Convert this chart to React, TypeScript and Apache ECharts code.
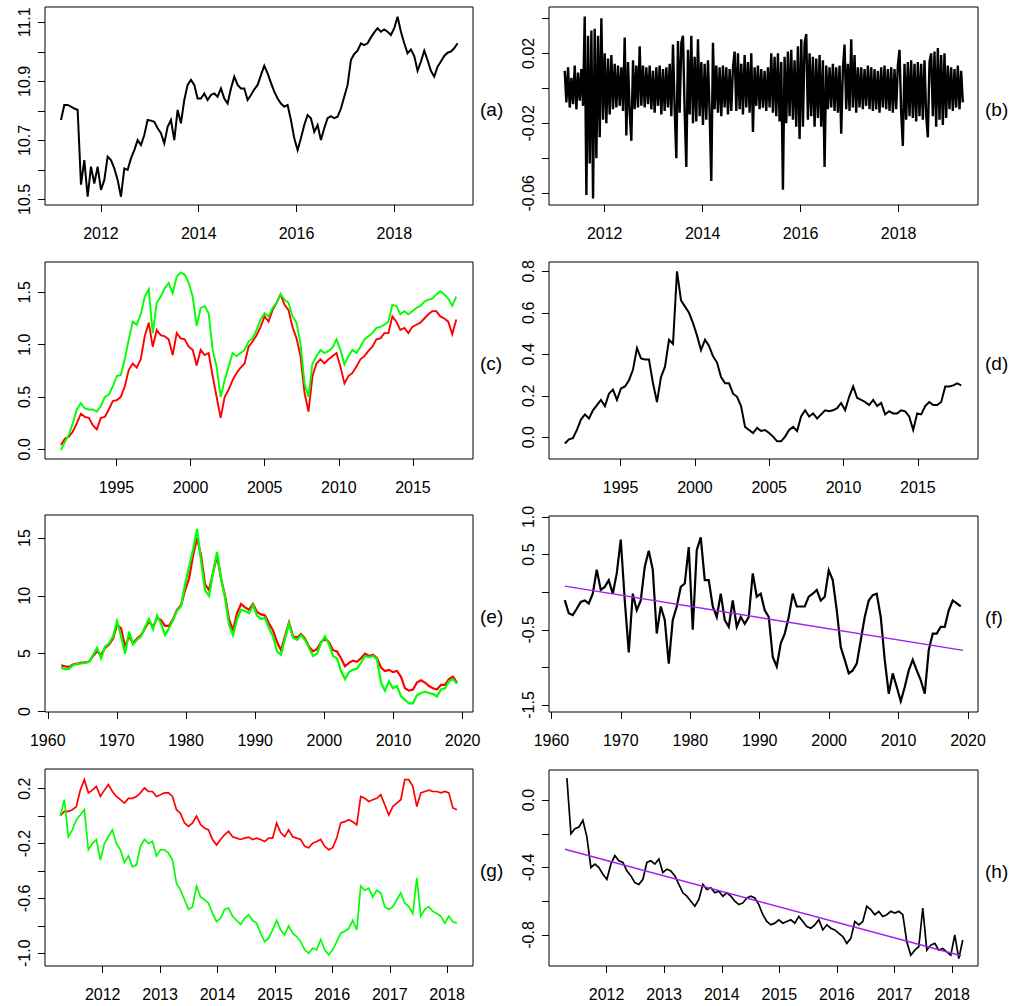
import React, { useEffect, useRef } from "react";
import * as echarts from "echarts";

// ---------- (a) level series ----------
const aStart = 2011.182;
const aStep = 0.06817;
const aValues = [
  10.769, 10.82, 10.82, 10.814, 10.808, 10.803, 10.55, 10.633, 10.509, 10.611,
  10.554, 10.611, 10.532, 10.566, 10.645, 10.633, 10.605, 10.566, 10.509, 10.605,
  10.6, 10.639, 10.667, 10.701, 10.684, 10.718, 10.769, 10.767, 10.763, 10.741,
  10.724, 10.69, 10.746, 10.769, 10.701, 10.803, 10.758, 10.837, 10.888, 10.905,
  10.888, 10.842, 10.842, 10.859, 10.837, 10.854, 10.859, 10.848, 10.876, 10.842,
  10.825, 10.876, 10.916, 10.888, 10.876, 10.876, 10.837, 10.854, 10.873, 10.888,
  10.921, 10.953, 10.927, 10.895, 10.865, 10.842, 10.825, 10.814, 10.82, 10.769,
  10.707, 10.667, 10.707, 10.752, 10.786, 10.775, 10.729, 10.752, 10.701, 10.741,
  10.775, 10.782, 10.775, 10.78, 10.808, 10.848, 10.888, 10.972, 10.993, 11.004,
  11.029, 11.023, 11.029, 11.049, 11.066, 11.08, 11.068, 11.076, 11.068, 11.057,
  11.08, 11.119, 11.068, 11.029, 10.995, 11.008, 10.986, 10.936, 10.967, 11.004,
  10.972, 10.936, 10.916, 10.95, 10.967, 10.986, 10.997, 11.001, 11.012, 11.029,
];

// ---------- (b) returns ----------
const bStart = 2011.184;
const bStep = 0.034;
const bValues = [
  0.01, -0.008, 0.012, -0.011, 0.006, -0.009, 0.013, -0.012, 0.009, -0.007, 0.011, -0.01,
  0.041, -0.061, 0.03, -0.043, 0.033, -0.063, 0.034, -0.04, 0.03, -0.028, 0.04,
  -0.018, 0.02, -0.02, 0.017, -0.015, 0.019, -0.012, 0.014,
  -0.011, 0.013, -0.01, 0.012, -0.013, 0.029,
  -0.027, 0.015, -0.014, -0.03, 0.016, -0.012, 0.013, -0.011, 0.024, -0.01,
  0.013, -0.011, 0.012, -0.009, 0.013, -0.012, 0.01, -0.014, 0.012, -0.01, 0.013, -0.015, 0.011, -0.013, 0.012, -0.011, 0.014, -0.016,
  0.025, -0.012, -0.04, 0.027, -0.014, 0.026, 0.03, -0.013, -0.045, 0.022, -0.015, 0.03,
  -0.02, 0.018, -0.019, 0.028, -0.016, 0.015, -0.021, 0.014, -0.018, 0.016, -0.014,
  -0.053, 0.026,
  -0.012, 0.013, -0.014, 0.012, -0.016, 0.013, -0.011, 0.012, -0.015, 0.011, -0.013, 0.012, 0.021,
  -0.013, 0.02, -0.012, 0.014, -0.015, 0.019, -0.011, 0.015, -0.014, 0.02, -0.025,
  0.012, -0.01, 0.013, -0.012, 0.011, -0.011, 0.01, -0.013, 0.012, -0.011, 0.02,
  -0.014, 0.018, -0.016, 0.02, -0.019, 0.015,
  -0.058,
  0.018, -0.02, 0.021, -0.016, 0.022, -0.018, 0.016, -0.022,
  0.024, -0.029, 0.028, -0.022, 0.026, 0.031, -0.018,
  0.02, -0.016, 0.018, -0.022, 0.017, -0.017, 0.019,
  -0.022, 0.016, -0.045,
  0.013, -0.012, 0.012, -0.011, 0.014, -0.013, 0.012, -0.014, 0.013, -0.026, 0.011,
  0.025, -0.012, 0.014, -0.013, 0.028, -0.011, 0.019, -0.014, 0.012,
  -0.011, 0.012, -0.012, 0.011, -0.01, 0.013, -0.012, 0.012, -0.013, 0.011, -0.012, 0.01,
  -0.014, 0.012, -0.011, 0.013, -0.012, 0.011, -0.013, 0.012, -0.014, 0.011, -0.012, 0.013,
  0.022, -0.014, -0.033,
  0.014, -0.018, 0.015, -0.016, 0.016, -0.017, 0.014, -0.019, 0.015, -0.016, 0.014, -0.018, 0.016, -0.015,
  -0.028, 0.015, 0.02, -0.016,
  0.021, -0.022, 0.023, -0.018, 0.019, -0.021, 0.02, -0.017,
  0.013, -0.012, 0.012, -0.013, 0.011, -0.011, 0.013, -0.012, 0.01, -0.008,
];

// ---------- (c) and (d) ----------
const cdStart = 1991.251;
const cdStep = 0.2694;
const cRed = [
  0.04, 0.1, 0.12, 0.17, 0.25, 0.34, 0.31, 0.3, 0.23, 0.19,
  0.3, 0.31, 0.38, 0.46, 0.47, 0.5, 0.6, 0.76, 0.82, 0.78,
  0.86, 1.08, 1.21, 0.98, 1.14, 1.09, 1.08, 1.05, 0.9, 1.11,
  1.06, 1.05, 0.98, 0.95, 0.8, 0.95, 0.9, 0.92, 0.7, 0.5,
  0.3, 0.5, 0.57, 0.66, 0.73, 0.78, 0.82, 0.98, 1.03, 1.09,
  1.17, 1.27, 1.22, 1.33, 1.4, 1.48, 1.38, 1.33, 1.17, 1.06,
  0.89, 0.54, 0.36, 0.7, 0.82, 0.86, 0.82, 0.86, 0.89, 0.92,
  0.79, 0.63, 0.7, 0.73, 0.79, 0.86, 0.89, 0.94, 0.98, 1.05,
  1.06, 1.11, 1.11, 1.27, 1.22, 1.14, 1.16, 1.11, 1.17, 1.19,
  1.21, 1.25, 1.29, 1.32, 1.32, 1.27, 1.25, 1.22, 1.1, 1.24,
];
const cGreen = [
  -0.01, 0.07, 0.14, 0.25, 0.38, 0.44, 0.39, 0.38, 0.38, 0.36,
  0.41, 0.5, 0.52, 0.6, 0.7, 0.71, 0.86, 1.05, 1.22, 1.19,
  1.29, 1.46, 1.53, 1.11, 1.4, 1.46, 1.54, 1.59, 1.49, 1.65,
  1.69, 1.67, 1.59, 1.46, 1.18, 1.35, 1.37, 1.3, 0.95, 0.79,
  0.5, 0.66, 0.79, 0.92, 0.89, 0.92, 0.95, 1.03, 1.06, 1.14,
  1.24, 1.3, 1.27, 1.35, 1.4, 1.48, 1.43, 1.4, 1.27, 1.21,
  1.01, 0.63, 0.5, 0.82, 0.89, 0.95, 0.92, 0.94, 0.97, 1.05,
  0.95, 0.81, 0.89, 0.95, 0.92, 0.98, 1.05, 1.08, 1.11, 1.16,
  1.17, 1.19, 1.22, 1.38, 1.37, 1.29, 1.32, 1.29, 1.32, 1.35,
  1.37, 1.41, 1.43, 1.44, 1.48, 1.51, 1.48, 1.44, 1.37, 1.46,
];
const dValues = [
  -0.03, -0.01, -0.005, 0.035, 0.085, 0.11, 0.09, 0.13, 0.155, 0.18,
  0.15, 0.21, 0.23, 0.18, 0.235, 0.245, 0.275, 0.325, 0.43, 0.38,
  0.375, 0.375, 0.26, 0.17, 0.29, 0.34, 0.47, 0.45, 0.8, 0.66,
  0.63, 0.6, 0.55, 0.49, 0.42, 0.47, 0.44, 0.39, 0.36, 0.29,
  0.26, 0.26, 0.21, 0.195, 0.15, 0.05, 0.035, 0.02, 0.045, 0.03,
  0.035, 0.02, 0.003, -0.02, -0.02, 0.003, 0.035, 0.05, 0.03, 0.1,
  0.13, 0.1, 0.115, 0.09, 0.11, 0.13, 0.125, 0.13, 0.14, 0.165,
  0.13, 0.195, 0.245, 0.19, 0.18, 0.17, 0.155, 0.18, 0.15, 0.165,
  0.11, 0.125, 0.115, 0.115, 0.13, 0.125, 0.1, 0.035, 0.115, 0.11,
  0.15, 0.17, 0.155, 0.155, 0.17, 0.245, 0.245, 0.25, 0.26, 0.25,
];

// ---------- (e) ----------
const eStart = 1961.928;
const eStep = 0.5783;
const eRed = [
  4.0, 3.9, 3.85, 4.05, 4.15, 4.2, 4.25, 4.3, 4.8, 5.2,
  4.9, 5.5, 5.8, 6.3, 7.5, 7.2, 5.6, 6.5, 5.9, 6.3,
  6.6, 7.2, 7.8, 7.3, 8.1, 7.9, 7.4, 7.4, 8.0, 8.8,
  9.2, 10.5, 11.5, 13.5, 15.0, 13.5, 11.0, 10.5, 12.0, 13.5,
  11.5, 10.0, 8.0, 7.0, 8.5, 9.3, 9.0, 8.8, 9.3, 8.6,
  8.4, 8.3, 7.6, 7.0, 6.0, 5.3, 6.5, 7.7, 6.5, 6.4,
  6.7, 6.3, 5.6, 5.2, 5.4, 6.0, 6.3, 6.0, 5.3, 5.2,
  4.6, 3.9, 4.2, 4.4, 4.3, 4.6, 5.0, 4.8, 4.9, 4.6,
  3.8, 3.5, 3.6, 3.4, 3.5, 3.0, 2.0, 1.8, 1.9, 2.5,
  2.7, 2.5, 2.2, 2.0, 1.9, 2.3, 2.3, 2.8, 3.0, 2.5,
];
const eGreen = [
  3.8, 3.65, 3.7, 4.0, 4.1, 4.15, 4.2, 4.3, 4.9, 5.5,
  4.6, 5.6, 5.9, 6.5, 7.8, 6.5, 5.0, 6.9, 5.8, 6.2,
  6.5, 7.3, 8.0, 7.1, 8.3, 7.6, 6.6, 7.2, 7.9, 8.7,
  9.1, 11.0, 12.5, 14.0, 15.8, 13.0, 10.5, 10.0, 12.0, 13.8,
  11.5, 9.8, 7.5, 6.6, 8.0, 8.8, 8.7, 8.5, 9.2, 8.3,
  8.0, 8.1, 7.2, 6.5, 5.2, 4.9, 6.3, 7.6, 6.4, 6.2,
  6.6, 6.2, 5.5, 4.8, 5.0, 5.9, 6.5, 5.8, 4.8, 4.6,
  3.5, 2.8, 3.4, 3.6, 3.7, 4.2, 4.8, 4.7, 4.8, 4.5,
  2.5, 1.8, 2.6, 2.0, 2.2, 1.3, 1.0, 0.7, 0.7, 1.4,
  1.6, 1.7, 1.6, 1.5, 1.3, 1.9, 2.0, 2.6, 2.8, 2.4,
];

// ---------- (f) ----------
const fStart = 1961.92;
const fStep = 0.5761;
const fValues = [
  -0.106, -0.28, -0.305, -0.22, -0.13, -0.11, -0.15, -0.02, 0.3, 0.03,
  0.07, 0.16, -0.02, 0.25, 0.7, -0.11, -0.8, -0.02, -0.24, -0.11,
  0.34, 0.55, 0.3, -0.55, -0.19, -0.37, -0.95, -0.37, -0.19, 0.07,
  0.115, 0.6, -0.5, 0.56, 0.73, 0.16, 0.16, -0.19, -0.33, -0.02,
  -0.37, -0.46, -0.11, -0.46, -0.33, -0.42, -0.33, 0.25, -0.06, -0.02,
  -0.24, -0.33, -0.86, -0.99, -0.68, -0.55, -0.33, -0.02, -0.19, -0.19,
  -0.19, -0.06, -0.02, 0.03, -0.11, -0.06, 0.29, 0.16, -0.24, -0.73,
  -0.9, -1.08, -1.04, -0.95, -0.64, -0.33, -0.11, -0.04, -0.02, -0.33,
  -0.9, -1.35, -1.08, -1.26, -1.45, -1.26, -1.04, -0.9, -1.04, -1.17,
  -1.35, -0.77, -0.55, -0.55, -0.46, -0.46, -0.24, -0.11, -0.15, -0.19,
];
const fTrend = [
  [1961.92, 0.08],
  [2019.3, -0.774],
];

// ---------- (g) ----------
const gStart = 2011.262;
const gStep = 0.06977;
const gRed = [
  0.003, 0.035, 0.035, 0.047, 0.07, 0.19, 0.266, 0.17, 0.19, 0.217,
  0.144, 0.19, 0.23, 0.18, 0.144, 0.12, 0.095, 0.13, 0.13, 0.144,
  0.17, 0.205, 0.18, 0.18, 0.144, 0.156, 0.17, 0.17, 0.144, 0.047,
  0.02, -0.05, -0.075, -0.05, 0.0, -0.06, -0.087, -0.1, -0.17, -0.21,
  -0.17, -0.136, -0.11, -0.15, -0.16, -0.17, -0.16, -0.153, -0.17, -0.16,
  -0.17, -0.185, -0.16, -0.16, -0.05, -0.12, -0.15, -0.1, -0.15, -0.16,
  -0.17, -0.22, -0.23, -0.197, -0.185, -0.17, -0.22, -0.245, -0.23, -0.16,
  -0.05, -0.04, -0.026, -0.04, -0.063, 0.144, 0.13, 0.107, 0.12, 0.13,
  0.156, 0.083, 0.008, 0.07, 0.095, 0.12, 0.266, 0.266, 0.217, 0.07,
  0.17, 0.18, 0.19, 0.18, 0.18, 0.17, 0.18, 0.17, 0.06, 0.047,
];
const gGreen = [
  0.003, 0.12, -0.15, -0.1, -0.025, 0.01, 0.047, -0.245, -0.2, -0.17,
  -0.32, -0.2, -0.15, -0.1, -0.2, -0.245, -0.34, -0.29, -0.37, -0.355,
  -0.22, -0.17, -0.2, -0.185, -0.29, -0.245, -0.245, -0.27, -0.32, -0.49,
  -0.54, -0.61, -0.68, -0.66, -0.51, -0.59, -0.61, -0.635, -0.71, -0.77,
  -0.745, -0.68, -0.67, -0.73, -0.76, -0.79, -0.745, -0.72, -0.76, -0.78,
  -0.854, -0.915, -0.89, -0.83, -0.76, -0.83, -0.866, -0.8, -0.854, -0.878,
  -0.915, -0.975, -1.0, -0.963, -0.975, -0.9, -0.975, -1.012, -0.975, -0.915,
  -0.854, -0.84, -0.82, -0.76, -0.83, -0.51, -0.54, -0.525, -0.59, -0.54,
  -0.56, -0.66, -0.68, -0.66, -0.61, -0.56, -0.635, -0.66, -0.71, -0.45,
  -0.73, -0.68, -0.66, -0.695, -0.71, -0.73, -0.78, -0.73, -0.77, -0.78,
];

// ---------- (h) ----------
const hStart = 2011.311;
const hStep = 0.06944;
const hValues = [
  0.13, -0.2, -0.17, -0.16, -0.12, -0.22, -0.4, -0.38, -0.4, -0.44,
  -0.47, -0.38, -0.33, -0.36, -0.37, -0.42, -0.45, -0.49, -0.5, -0.47,
  -0.37, -0.36, -0.38, -0.35, -0.43, -0.41, -0.42, -0.45, -0.5, -0.55,
  -0.57, -0.6, -0.63, -0.59, -0.5, -0.53, -0.52, -0.55, -0.54, -0.57,
  -0.55, -0.57, -0.6, -0.62, -0.61, -0.58, -0.57, -0.58, -0.62, -0.68,
  -0.72, -0.74, -0.73, -0.71, -0.73, -0.72, -0.71, -0.73, -0.69, -0.72,
  -0.75, -0.76, -0.74, -0.71, -0.77, -0.74, -0.76, -0.77, -0.79, -0.81,
  -0.85, -0.82, -0.72, -0.74, -0.72, -0.63, -0.65, -0.68, -0.66, -0.69,
  -0.68, -0.66, -0.67, -0.66, -0.68, -0.84, -0.92, -0.89, -0.87, -0.64,
  -0.89, -0.86, -0.85, -0.89, -0.88, -0.9, -0.92, -0.8, -0.94, -0.83,
];
const hTrend = [
  [2011.277, -0.292],
  [2018.16, -0.923],
];

// ---------- tick values ----------
const yearsAB = [2012, 2014, 2016, 2018];
const yearsCD = [1995, 2000, 2005, 2010, 2015];
const yearsEF = [1960, 1970, 1980, 1990, 2000, 2010, 2020];
const yearsGH = [2012, 2013, 2014, 2015, 2016, 2017, 2018];

const aTicks = [10.5, 10.6, 10.7, 10.8, 10.9, 11.0, 11.1];
const aLabels = [10.5, 10.7, 10.9, 11.1];
const bTicks = [-0.06, -0.04, -0.02, 0, 0.02, 0.04];
const bLabels = [-0.06, -0.02, 0.02];
const cTicks = [0, 0.5, 1.0, 1.5];
const dTicks = [0, 0.2, 0.4, 0.6, 0.8];
const eTicks = [0, 5, 10, 15];
const fTicks = [-1.5, -1.0, -0.5, 0, 0.5, 1.0];
const fLabels = [-1.5, -0.5, 0.5, 1.0];
const gTicks = [-1.0, -0.8, -0.6, -0.4, -0.2, 0, 0.2];
const gLabels = [-1.0, -0.6, -0.2, 0.2];
const hTicks = [-0.8, -0.6, -0.4, -0.2, 0];
const hLabels = [-0.8, -0.4, 0];

const ts = (start: number, step: number, vals: number[]) =>
  vals.map((v, i) => [start + i * step, v]);

const RED = "#FF0000";
const GREEN = "#00FF00";
const BLACK = "#000000";
const PURPLE = "#A020F0";
const FONT = "Liberation Sans, Arial, Helvetica, sans-serif";

type Panel = {
  label: string;
  rect: [number, number, number, number];
  xr: [number, number];
  yr: [number, number];
  xTicks: number[];
  yTicks: number[];
  yLabels: number[];
  digits: number;
  series: { data: number[][]; color: string; width: number }[];
};

const L = 45, R = 549, WL = 428, WR = 429;

const panels: Panel[] = [
  {
    label: "(a)", rect: [L, 7, WL, 198], xr: [2010.855, 2019.61], yr: [10.481, 11.152],
    xTicks: yearsAB, yTicks: aTicks, yLabels: aLabels, digits: 1,
    series: [{ data: ts(aStart, aStep, aValues), color: BLACK, width: 2 }],
  },
  {
    label: "(b)", rect: [R, 7, WR, 198], xr: [2010.863, 2019.62], yr: [-0.0667, 0.0465],
    xTicks: yearsAB, yTicks: bTicks, yLabels: bLabels, digits: 2,
    series: [{ data: ts(bStart, bStep, bValues), color: BLACK, width: 2.4 }],
  },
  {
    label: "(c)", rect: [L, 262, WL, 197], xr: [1990.18, 2019.05], yr: [-0.093, 1.79],
    xTicks: yearsCD, yTicks: cTicks, yLabels: cTicks, digits: 1,
    series: [
      { data: ts(cdStart, cdStep, cRed), color: RED, width: 1.9 },
      { data: ts(cdStart, cdStep, cGreen), color: GREEN, width: 1.9 },
    ],
  },
  {
    label: "(d)", rect: [R, 262, WR, 197], xr: [1990.18, 2019.05], yr: [-0.105, 0.845],
    xTicks: yearsCD, yTicks: dTicks, yLabels: dTicks, digits: 1,
    series: [{ data: ts(cdStart, cdStep, dValues), color: BLACK, width: 2 }],
  },
  {
    label: "(e)", rect: [L, 515, WL, 197], xr: [1959.6, 2021.5], yr: [-0.05, 17.0],
    xTicks: yearsEF, yTicks: eTicks, yLabels: eTicks, digits: 0,
    series: [
      { data: ts(eStart, eStep, eRed), color: RED, width: 2.2 },
      { data: ts(eStart, eStep, eGreen), color: GREEN, width: 2.2 },
    ],
  },
  {
    label: "(f)", rect: [R, 516, WR, 196], xr: [1959.65, 2021.44], yr: [-1.593, 1.013],
    xTicks: yearsEF, yTicks: fTicks, yLabels: fLabels, digits: 1,
    series: [
      { data: ts(fStart, fStep, fValues), color: BLACK, width: 2.2 },
      { data: fTrend, color: PURPLE, width: 1.4 },
    ],
  },
  {
    label: "(g)", rect: [L, 769, WL, 197], xr: [2010.995, 2018.45], yr: [-1.093, 0.344],
    xTicks: yearsGH, yTicks: gTicks, yLabels: gLabels, digits: 1,
    series: [
      { data: ts(gStart, gStep, gRed), color: RED, width: 1.7 },
      { data: ts(gStart, gStep, gGreen), color: GREEN, width: 1.7 },
    ],
  },
  {
    label: "(h)", rect: [R, 770, WR, 196], xr: [2011.0, 2018.45], yr: [-0.984, 0.178],
    xTicks: yearsGH, yTicks: hTicks, yLabels: hLabels, digits: 1,
    series: [
      { data: ts(hStart, hStep, hValues), color: BLACK, width: 1.7 },
      { data: hTrend, color: PURPLE, width: 1.4 },
    ],
  },
];

function buildOption() {
  const grid: any[] = [];
  const xAxis: any[] = [];
  const yAxis: any[] = [];
  const series: any[] = [];
  const graphic: any[] = [];

  panels.forEach((p, i) => {
    const [left, top, width, height] = p.rect;
    grid.push({
      left, top, width, height,
      show: true, borderColor: "#000", borderWidth: 1, backgroundColor: "transparent",
      containLabel: false, outerBoundsMode: "none",
    });
    const tickStyle = { show: true, inside: false, length: 7, lineStyle: { color: "#000", width: 1 } };
    xAxis.push({
      type: "value", gridIndex: i, min: p.xr[0], max: p.xr[1],
      axisLine: { show: false, onZero: false },
      splitLine: { show: false },
      axisTick: { ...tickStyle, customValues: p.xTicks },
      axisLabel: {
        customValues: p.xTicks, color: "#000", fontSize: 16, fontFamily: FONT, margin: 20,
        formatter: (v: number) => String(Math.round(v)),
      },
    });
    yAxis.push({
      type: "value", gridIndex: i, min: p.yr[0], max: p.yr[1],
      axisLine: { show: false, onZero: false },
      splitLine: { show: false },
      axisTick: { ...tickStyle, customValues: p.yTicks },
      axisLabel: {
        customValues: p.yLabels, color: "#000", fontSize: 16, fontFamily: FONT, margin: 13, rotate: 90,
        formatter: (v: number) => v.toFixed(p.digits),
      },
    });
    p.series.forEach((s) => {
      series.push({
        type: "line", xAxisIndex: i, yAxisIndex: i, data: s.data,
        showSymbol: false, symbol: "none", silent: true,
        lineStyle: { color: s.color, width: s.width, join: "miter" },
        animation: false,
      });
    });
    graphic.push({
      type: "text", x: left + width + 7, y: top + height / 2 + 3,
      style: { text: p.label, font: `19px ${FONT}`, fill: "#000", align: "left", verticalAlign: "middle" },
    });
  });

  return { animation: false, backgroundColor: "#fff", grid, xAxis, yAxis, series, graphic };
}

export default function App() {
  const ref = useRef<HTMLDivElement>(null);
  useEffect(() => {
    if (!ref.current) return;
    const chart = echarts.init(ref.current, undefined, { renderer: "svg" });
    chart.setOption(buildOption() as any);
    return () => chart.dispose();
  }, []);
  return (
    <div
      ref={ref}
      style={{ position: "absolute", left: 0, top: 0, width: 1010, height: 1006, background: "#fff" }}
    />
  );
}
